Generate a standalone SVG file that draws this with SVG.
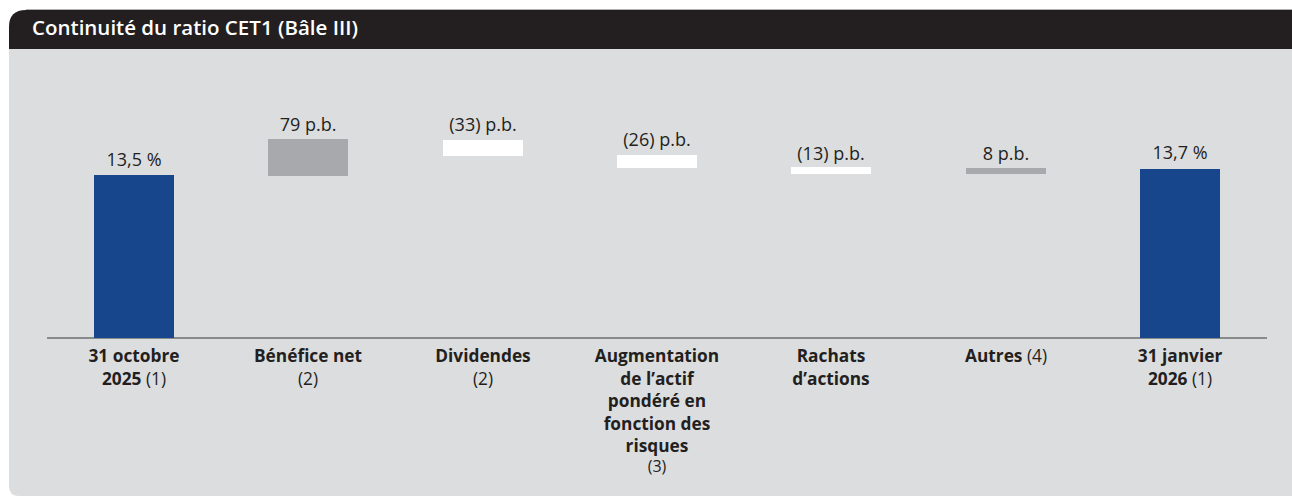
<svg xmlns="http://www.w3.org/2000/svg" width="1292" height="496" viewBox="0 0 1292 496">
<style>
.val{font-family:"Open Sans","Noto Sans",sans-serif;font-size:18px;fill:#231f20;text-anchor:middle}
.cat{font-family:"Open Sans","Noto Sans",sans-serif;font-size:17.3px;font-weight:700;fill:#231f20;text-anchor:middle}
.note{font-weight:400}
.blue{fill:#17468c}
.grey{fill:#a7a9ac}
.white{fill:#ffffff}
</style>
<rect x="0" y="0" width="1292" height="496" fill="#ffffff"/>
<g id="panel">
<path d="M9,49 H1292 V496 H19 Q9,496 9,486 Z" fill="#dcdddf"/>
<path d="M9,49 V27 Q9,10 26,10 H1292 V49 Z" fill="#231f20"/>
<line x1="26" y1="9.5" x2="1292" y2="9.5" stroke="#b0b0b0" stroke-width="1"/>
<text x="32" y="35" font-family="'Open Sans','Noto Sans',sans-serif" font-size="20.5px" font-weight="600" fill="#ffffff">Continuité du ratio CET1 (Bâle III)</text>
</g>
<g id="axis">
<line x1="47" y1="338" x2="1267" y2="338" stroke="#6d6e71" stroke-width="1.5"/>
</g>
<g id="bar-oct2025">
<rect class="blue" x="94" y="175" width="80" height="163"/>
<text class="val" x="134" y="166">13,5 %</text>
<text class="cat" x="134" y="362">31 octobre<tspan x="134" dy="23">2025 <tspan class="note">(1)</tspan></tspan></text>
</g>
<g id="bar-benefice">
<rect class="grey" x="268" y="139" width="80" height="37"/>
<text class="val" x="308" y="131">79 p.b.</text>
<text class="cat" x="308" y="362">Bénéfice net<tspan class="note" x="308" dy="22.5">(2)</tspan></text>
</g>
<g id="bar-dividendes">
<rect class="white" x="443" y="140" width="80" height="16"/>
<text class="val" x="483" y="131">(33) p.b.</text>
<text class="cat" x="483" y="362">Dividendes<tspan class="note" x="483" dy="22.5">(2)</tspan></text>
</g>
<g id="bar-actif">
<rect class="white" x="617" y="155" width="80" height="13"/>
<text class="val" x="657" y="146">(26) p.b.</text>
<text class="cat" x="657" y="362">Augmentation<tspan x="657" dy="22.5">de l’actif</tspan><tspan x="657" dy="22.5">pondéré en</tspan><tspan x="657" dy="22.5">fonction des</tspan><tspan x="657" dy="22.5">risques</tspan><tspan class="note" x="657" dy="20" font-size="16px">(3)</tspan></text>
</g>
<g id="bar-rachats">
<rect class="white" x="791" y="167" width="80" height="7"/>
<text class="val" x="831" y="160">(13) p.b.</text>
<text class="cat" x="831" y="362">Rachats<tspan x="831" dy="22.5">d’actions</tspan></text>
</g>
<g id="bar-autres">
<rect class="grey" x="966" y="168" width="80" height="6"/>
<text class="val" x="1006" y="160">8 p.b.</text>
<text class="cat" x="1006" y="362">Autres <tspan class="note">(4)</tspan></text>
</g>
<g id="bar-jan2026">
<rect class="blue" x="1140" y="169" width="80" height="169"/>
<text class="val" x="1180" y="159">13,7 %</text>
<text class="cat" x="1180" y="362">31 janvier<tspan x="1180" dy="23">2026 <tspan class="note">(1)</tspan></tspan></text>
</g>
</svg>
